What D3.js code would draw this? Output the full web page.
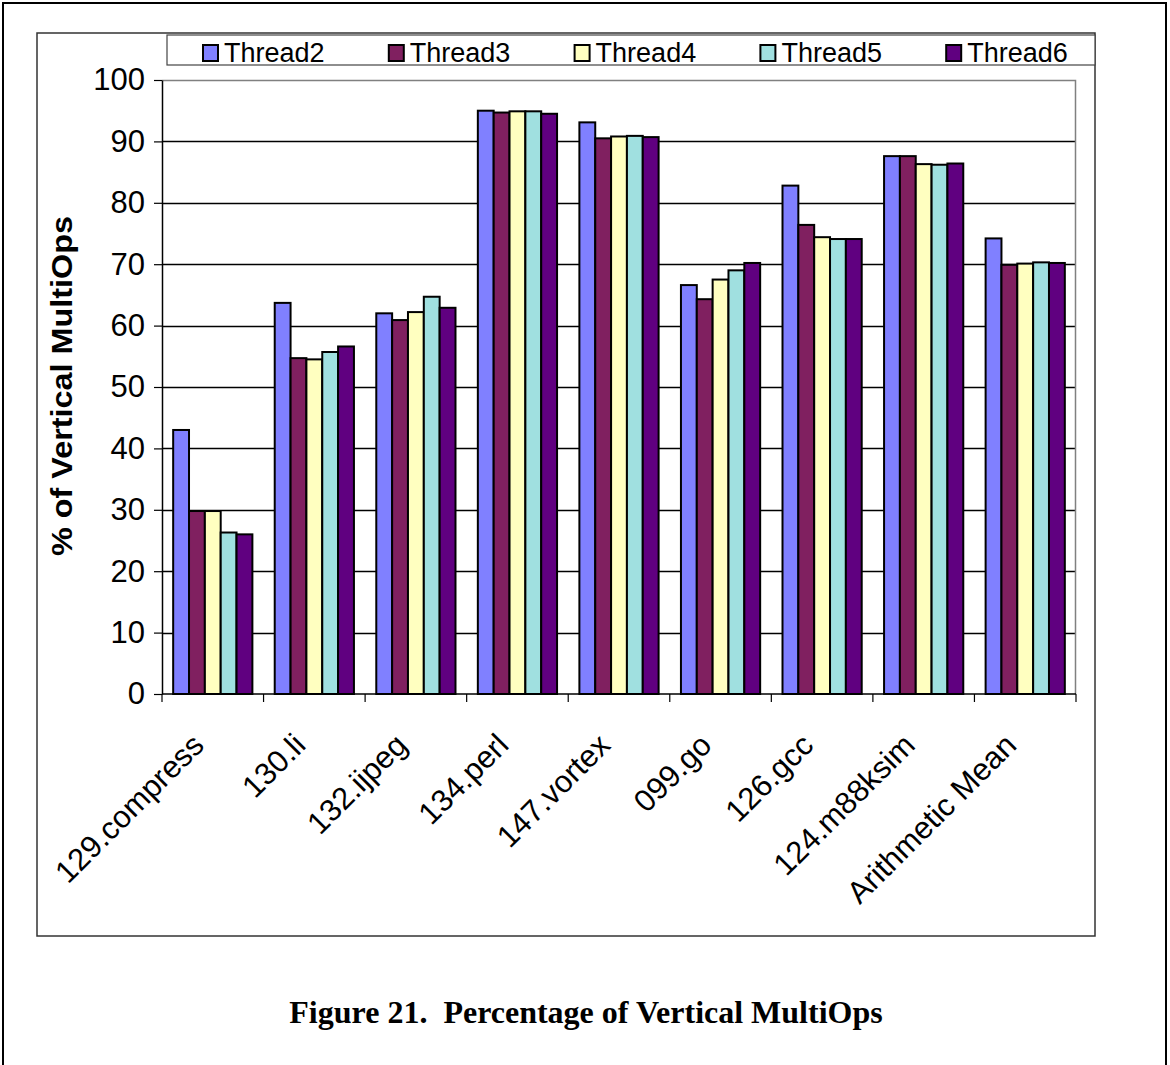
<!DOCTYPE html>
<html>
<head>
<meta charset="utf-8">
<script src="https://cdn.jsdelivr.net/npm/d3@7"></script>
<style>
  body { margin: 0; background: #fff; }
  svg text { font-family: "Liberation Sans", Arial, sans-serif; fill: #000; }
</style>
</head>
<body>
<svg id="chart" width="1170" height="1065"></svg>
<script>
// Benchmarks on the x axis
const categories = ["129.compress", "130.li", "132.ijpeg", "134.perl", "147.vortex",
                    "099.go", "126.gcc", "124.m88ksim", "Arithmetic Mean"];

// Series names and values (% of vertical MultiOps)
const seriesNames = ["Thread2", "Thread3", "Thread4", "Thread5", "Thread6"];
const thread2 = [43.0, 63.7, 62.0, 95.0, 93.1, 66.6, 82.8, 87.6, 74.2];
const thread3 = [29.8, 54.7, 60.9, 94.7, 90.5, 64.3, 76.4, 87.6, 69.9];
const thread4 = [29.8, 54.5, 62.2, 94.9, 90.8, 67.5, 74.4, 86.3, 70.1];
const thread5 = [26.3, 55.7, 64.7, 94.9, 90.9, 69.0, 74.1, 86.2, 70.3];
const thread6 = [26.0, 56.6, 62.9, 94.5, 90.7, 70.2, 74.1, 86.4, 70.2];
const seriesColors = ["#8080FF", "#802060", "#FFFFC0", "#A0E0E0", "#600080"];

// Value axis tick labels
const yTicks = [0, 10, 20, 30, 40, 50, 60, 70, 80, 90, 100];

const seriesValues = [thread2, thread3, thread4, thread5, thread6];

const svg = d3.select("#chart");

// Page border and chart frame
svg.append("rect").attr("x", 3).attr("y", 3).attr("width", 1163).attr("height", 1100)
  .attr("fill", "none").attr("stroke", "#000").attr("stroke-width", 2);
svg.append("rect").attr("x", 37).attr("y", 33).attr("width", 1058).attr("height", 903)
  .attr("fill", "#fff").attr("stroke", "#333").attr("stroke-width", 1.5);

// Plot area
const plot = { left: 162, right: 1076, top: 80, bottom: 694 };

const x0 = d3.scaleBand().domain(categories)
  .range([plot.left, plot.right]).paddingInner(0.22).paddingOuter(0.11);
const x1 = d3.scaleBand().domain(seriesNames).range([0, x0.bandwidth()]);
const y = d3.scaleLinear().domain([0, 100]).range([plot.bottom, plot.top]);

// Gridlines
svg.append("g").selectAll("line").data(yTicks.filter(t => t > 0 && t < 100)).join("line")
  .attr("x1", plot.left).attr("x2", plot.right)
  .attr("y1", d => Math.round(y(d)) + 0.5).attr("y2", d => Math.round(y(d)) + 0.5)
  .attr("stroke", "#000").attr("stroke-width", 1.3);

// Plot area border (top/right in grey)
svg.append("path")
  .attr("d", `M${plot.left},${plot.top + 0.5}H${plot.right - 0.5}V${plot.bottom}`)
  .attr("fill", "none").attr("stroke", "#808080").attr("stroke-width", 1.5);

// Bars
const groups = svg.append("g").selectAll("g").data(categories).join("g")
  .attr("transform", d => `translate(${x0(d)},0)`);
groups.selectAll("rect")
  .data((d, i) => seriesNames.map((s, k) => ({ s, k, v: seriesValues[k][i] })))
  .join("rect")
  .attr("x", d => x1(d.s))
  .attr("y", d => y(d.v))
  .attr("width", x1.bandwidth())
  .attr("height", d => y(0) - y(d.v))
  .attr("fill", d => seriesColors[d.k])
  .attr("stroke", "#000").attr("stroke-width", 2);

// Y axis
const yAxis = svg.append("g").attr("transform", `translate(${plot.left},0)`)
  .call(d3.axisLeft(y).tickValues(yTicks).tickSize(8).tickSizeOuter(0).tickPadding(9));
yAxis.select(".domain").attr("stroke", "#000").attr("stroke-width", 1.5);
yAxis.selectAll(".tick line").attr("stroke", "#000").attr("stroke-width", 1.2);
yAxis.selectAll(".tick text").attr("font-size", 31)
  .attr("font-family", "Liberation Sans, Arial, sans-serif").attr("fill", "#000");

// X axis line with ticks at category boundaries
const boundaries = categories.map(c => x0(c) - x0.step() * x0.paddingOuter())
  .concat([plot.right]);
svg.append("line").attr("x1", plot.left).attr("x2", plot.right)
  .attr("y1", plot.bottom).attr("y2", plot.bottom)
  .attr("stroke", "#000").attr("stroke-width", 1.5);
svg.append("g").selectAll("line").data(boundaries).join("line")
  .attr("x1", d => d).attr("x2", d => d)
  .attr("y1", plot.bottom).attr("y2", plot.bottom + 8)
  .attr("stroke", "#000").attr("stroke-width", 1.2);

// Rotated category labels
svg.append("g").selectAll("text").data(categories).join("text")
  .attr("transform", d => `translate(${x0(d) + x0.bandwidth() / 2 - 7},${plot.bottom + 53}) rotate(-45)`)
  .attr("text-anchor", "end")
  .attr("font-size", 31)
  .text(d => d);

// Y axis title
svg.append("text")
  .attr("transform", `translate(72,386) rotate(-90)`)
  .attr("text-anchor", "middle")
  .attr("font-size", 29).attr("font-weight", "bold")
  .attr("textLength", 340).attr("lengthAdjust", "spacingAndGlyphs")
  .text("% of Vertical MultiOps");

// Legend
const legend = svg.append("g");
legend.append("rect").attr("x", 167).attr("y", 35).attr("width", 928).attr("height", 30)
  .attr("fill", "#fff").attr("stroke", "#444").attr("stroke-width", 1.2);
const items = legend.selectAll("g").data(seriesNames).join("g")
  .attr("transform", (d, i) => `translate(${202 + i * 185.8},0)`);
items.append("rect").attr("x", 1).attr("y", 45).attr("width", 15).attr("height", 16)
  .attr("fill", (d, i) => seriesColors[i]).attr("stroke", "#000").attr("stroke-width", 2);
items.append("text").attr("x", 22).attr("y", 62).attr("font-size", 27).text(d => d);

// Caption
svg.append("text").attr("x", 586).attr("y", 1023).attr("text-anchor", "middle")
  .attr("font-weight", "bold").attr("font-size", 32)
  .style("font-family", "'Liberation Serif', 'Times New Roman', serif")
  .style("white-space", "pre")
  .text("Figure 21.  Percentage of Vertical MultiOps");
</script>
</body>
</html>
